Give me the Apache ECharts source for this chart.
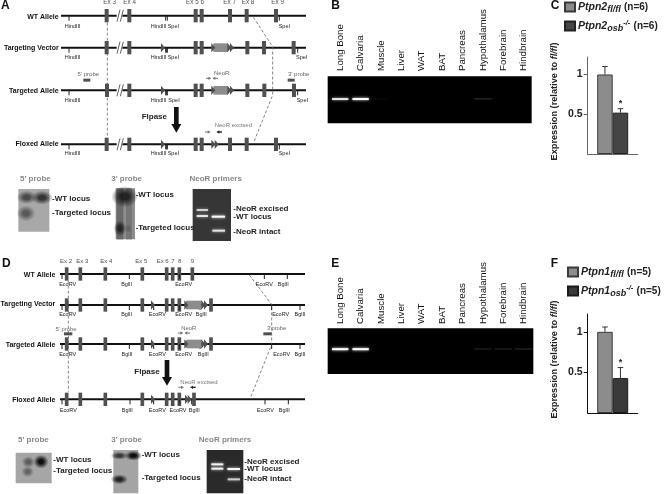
<!DOCTYPE html>
<html><head><meta charset="utf-8">
<style>html,body{margin:0;padding:0;background:#fff}#c{width:664px;height:494px;filter:blur(.35px)}</style>
<script src="https://cdn.jsdelivr.net/npm/echarts@6/dist/echarts.min.js"></script>
</head><body><div id="c"></div>
<script>
// ---------- Bar charts (panels C and F)
const ptpn2Names = ['Ptpn2 fl/fl', 'Ptpn2 osb-/-'];
const ptpn2Means = [1.0, 0.52];
const ptpn2Upper = [1.10, 0.57];
const ptpn1Names = ['Ptpn1 fl/fl', 'Ptpn1 osb-/-'];
const ptpn1Means = [1.0, 0.43];
const ptpn1Upper = [1.06, 0.56];
const yTicks = [0.5, 1];

// ---------- Gels (panels B and E): band intensity per tissue
const tissues = ['Long Bone','Calvaria','Muscle','Liver','WAT','BAT','Pancreas','Hypothalamus','Forebrain','Hindbrain'];
const gelPtpn2 = [0.85, 1, 0.02, 0, 0, 0, 0, 0.08, 0, 0];
const gelPtpn1 = [1, 1, 0, 0, 0, 0, 0, 0.06, 0.06, 0.07];

// ---------- Schematics (panels A and D), in the figure's own map units
const aWTExons = [320,388,587,605,690,740,828];
const aVectorExons = [320,388,587,605,742,792,881];
const aTargetExons = [321,388,587,605,742,793,882];
const aFloxExons = [320,388,587,605,690,740,828];
const aExonLabels = [['Ex 3',329],['Ex 4',389],['Ex 5 6',585],['Ex 7',689],['Ex 8',744],['Ex 9',833]];
const aWTSites = [['HindIII',218,207],['HindIII',476,497],['SpeI',520,502],['SpeI',853,838]];
const aVectorSites = [['HindIII',218,207],['HindIII',476,497],['SpeI',520,502],['SpeI',905,893]];
const aTargetSites = [['HindIII',218,207],['HindIII',476,497],['SpeI',522,502],['SpeI',907,893]];
const aFloxSites = [['HindIII',218,207],['HindIII',476,497],['SpeI',520,502],['SpeI',853,838]];
const dWTExons = [200,241,316,427,500,518,538,577];
const dVectorExons = [200,241,316,427,500,518,538,633];
const dFloxExons = [200,241,316,427,500,518,538,582];
const dExonLabels = [['Ex 2',198],['Ex 3',247],['Ex 4',319],['Ex 5',424],['Ex 6',488],['7',519],['8',539],['9',577]];
const dWTSites = [['EcoRV',203,186],['BglII',380,388],['EcoRV',551,538],['EcoRV',793,793],['BglII',850,862]];
const dVectorSites = [['EcoRV',203,186],['BglII',380,388],['EcoRV',472,461],['EcoRV',551,538],['BglII',604,600],['EcoRV',842,815],['BglII',900,900]];
const dTargetSites = [['EcoRV',203,186],['BglII',381,388],['EcoRV',472,461],['EcoRV',551,538],['BglII',610,600],['EcoRV',845,815],['BglII',900,900]];
const dFloxSites = [['EcoRV',205,186],['BglII',382,390],['EcoRV',472,461],['EcoRV',534,538],['BglII',583,575],['EcoRV',796,795],['BglII',853,865]];

const FONT = '"Liberation Sans", Arial, sans-serif';
const shapes = [];
const grey = '#505050';
function rect(x,y,w,h,fill,o){shapes.push(Object.assign({t:'rect',x,y,w,h,fill},o||{}));}
function line(pts,stroke,lw,dash){shapes.push({t:'line',pts,stroke,lw,dash});}
function poly(pts,fill){shapes.push({t:'poly',pts,fill});}
function text(s,x,y,size,fill,weight,align){shapes.push({t:'text',s,x,y,size,fill,weight:weight||'normal',align:align||'left'});}
function blob(x,y,rx,ry,c){shapes.push({t:'blob',x,y,rx,ry,c});}
function tri(x,y,w,h){poly([[x,y-(h||14)],[x+(w||12),y],[x,y+(h||14)]],grey);}
function exons(list,y,w){list.forEach(x=>rect(x-(w||6),y-20,(w||6)*2,40,grey));}
function sites(list,y,ty){list.forEach(s=>{text(s[0],s[1],ty,5.5,'#222','normal','center');line([[s[2],y],[s[2],y+15]],'#222',1);});}
function arrow(x0,x1,y,c,lw){const d=x1>x0?1:-1;line([[x0,y],[x1-d*6,y]],c,lw||1);poly([[x1,y],[x1-d*9,y-5],[x1-d*9,y+5]],c);}
function big(x,y0,y1){rect(x-7,y0,14,y1-y0-22,'#111');poly([[x-15,y1-26],[x+15,y1-26],[x,y1]],'#111');}
function backbone(x0,x1,y){line([[x0,y],[x1,y]],'#111',2);}
function brk(x,y){rect(x-8,y-8,17,16,'#fff');line([[x-7,y+18],[x+2,y-18]],grey,.9);line([[x+3,y+18],[x+12,y-18]],grey,.9);}
function rowLabel(s,x,y){text(s,x,y,7,'#111','bold','right');}
function bandW(x0,x1,y,a){rect(x0,y-3,x1-x0,6,'rgba(255,255,255,'+a+')',{blur:3});}
function gray(s,x,y){text(s,x,y,8,'#888','bold','center');}

// Panel A
const Ay=[47,143,271,433];
Ay.forEach(y=>backbone(183,918,y));
line([[322,68],[322,412]],'#666',.8,[3,2]);
line([[760,52],[818,140],[818,285],[762,425]],'#666',.8,[3,2]);
exons(aWTExons,Ay[0]);exons(aVectorExons,Ay[1]);exons(aTargetExons,Ay[2]);exons(aFloxExons,Ay[3]);
Ay.forEach(y=>brk(358,y));
aExonLabels.forEach(e=>text(e[0],e[1],8,6.3,grey,'normal','center'));
sites(aWTSites,47,79);sites(aVectorSites,143,171);sites(aTargetSites,271,301);sites(aFloxSites,433,461);
[143,271,433].forEach(y=>{tri(483,y);line([[500,y],[500,y+15]],'#222',1);});
[143,271].forEach(y=>{rect(640,y-13,44,26,'#8c8c8c');tri(634,y);tri(682,y);tri(690,y);});
tri(634,433);tri(644,433);
rowLabel('WT Allele',176,50);rowLabel('Targeting Vector',176,143);rowLabel('Targeted Allele',176,272);rowLabel('Floxed Allele',176,433);
rect(250,236,21,9,grey);rect(863,236,21,9,grey);
text("5' probe",265,223,6,'#666','normal','center');text("3' probe",896,223,6,'#666','normal','center');
text('NeoR',665,219,6,'#666','normal','center');arrow(618,634,235,'#777');arrow(654,637,235,'#777');
text('Flpase',463,351,8,'#222','bold','center');big(529,321,398);
text('NeoR excised',700,377,6,'#777','normal','center');arrow(615,632,396,'#777');arrow(666,649,396,'#222',1.4);
gray("5' probe",106,537);gray("3' probe",380,535);gray('NeoR primers',647,536);
// A blots
rect(55,567,93,128,'#a8a8a8');blob(80,592,30,20,'rgba(50,50,50,.8)');blob(126,593,32,21,'rgba(40,40,40,.9)');blob(78,640,28,24,'rgba(55,55,55,.7)');
rect(347,565,58,153,'#8e8e8e');rect(350,565,20,153,'#6a6a6a');rect(378,565,18,153,'#767676');blob(374,590,40,32,'rgba(25,25,25,.9)');blob(360,685,19,24,'rgba(25,25,25,.85)');blob(385,685,12,14,'rgba(70,70,70,.4)');
rect(578,567,115,156,'#363636');bandW(590,624,630,.7);bandW(590,624,648,.8);bandW(635,675,650,.95);bandW(637,675,692,.8);
[['-WT locus',156,595],['-Targeted locus',156,637],['-WT locus',407,585],['-Targeted locus',407,683],['-NeoR excised',700,625],['-WT locus',700,649],['-NeoR intact',700,695]].forEach(t=>text(t[0],t[1],t[2],8,'#222','bold'));

// Panel D
const off=735, Dy=[87,180,297,463].map(v=>v+off);
Dy.forEach(y=>backbone(180,915,y));
line([[205,107+off],[205,440+off]],'#666',.8,[3,2]);
line([[748,90+off],[815,178+off],[815,298+off],[750,462+off]],'#666',.8,[3,2]);
exons(dWTExons,Dy[0],5.5);exons(dVectorExons,Dy[1],5.5);exons(dVectorExons,Dy[2],5.5);exons(dFloxExons,Dy[3],5.5);
dExonLabels.forEach(e=>text(e[0],e[1],48+off,6,grey,'normal','center'));
sites(dWTSites,Dy[0],118+off);sites(dVectorSites,Dy[1],209+off);sites(dTargetSites,Dy[2],327+off);sites(dFloxSites,Dy[3],495+off);
[Dy[1],Dy[2],Dy[3]].forEach(y=>tri(453,y));
[Dy[1],Dy[2]].forEach(y=>{rect(558,y-13,47,26,'#8c8c8c');tri(553,y);tri(604,y);tri(612,y);});
tri(555,Dy[3]);tri(563,Dy[3]);
rowLabel('WT Allele',166,90+off);rowLabel('Targeting Vector',166,178+off);rowLabel('Targeted Allele',166,299+off);rowLabel('Floxed Allele',166,465+off);
rect(192,262+off,25,9,grey);rect(790,262+off,25,9,grey);
text("5' probe",198,252+off,5.8,'#666','normal','center');text("3'probe",830,250+off,5.8,'#666','normal','center');
text('NeoR',566,250+off,5.8,'#666','normal','center');arrow(533,550,264+off,'#777');arrow(570,553,264+off,'#777');
text('Flpase',441,380+off,8,'#222','bold','center');big(501,345+off,422+off);
text('NeoR excised',597,411+off,6,'#777','normal','center');arrow(535,552,427+off,'#777');arrow(587,570,427+off,'#222',1.4);
gray("5' probe",100,585+off);gray("3' probe",380,585+off);gray('NeoR primers',675,585+off);
// D blots
rect(47,623+off,108,92,'#a6a6a6');blob(85,651+off,20,18,'rgba(55,55,55,.65)');blob(123,650+off,23,21,'rgba(15,15,15,1)');blob(83,680+off,19,17,'rgba(55,55,55,.6)');
rect(340,615+off,75,130,'#a4a4a4');blob(358,632+off,26,12,'rgba(30,30,30,.8)');blob(400,632+off,26,15,'rgba(15,15,15,1)');blob(358,703+off,26,15,'rgba(20,20,20,.9)');
rect(620,615+off,110,130,'#2a2a2a');bandW(634,670,658+off,.9);bandW(634,670,671+off,.9);bandW(682,720,672+off,.95);bandW(683,720,703+off,.7);
[['-WT locus',160,645],['-Targeted locus',160,677],['-WT locus',425,630],['-Targeted locus',425,697],['-NeoR excised',733,651],['-WT locus',733,672],['-NeoR intact',733,702]].forEach(t=>text(t[0],t[1],t[2]+off,8,'#222','bold'));

// Gels background and panel letters
rect(983,229,612,141,'#000');rect(983,985,617,137,'#000');
[['A',3,17],['B',994,16],['C',1652,18],['D',6,792],['E',994,790],['F',1652,790]].forEach(p=>text(p[0],p[1],p[2],12,'#111','bold'));

function renderPage(params, api){
  const s=shapes[api.value(0)], P=p=>api.coord(p);
  if(s.t==='rect'){const a=P([s.x,s.y]);return {type:'rect',shape:{x:a[0],y:a[1],width:s.w/3,height:s.h/3},style:{fill:s.fill,shadowBlur:s.blur||0,shadowColor:s.blur?s.fill:'transparent'}};}
  if(s.t==='line'){return {type:'polyline',shape:{points:s.pts.map(P)},style:{fill:'none',stroke:s.stroke,lineWidth:s.lw,lineDash:s.dash||null}};}
  if(s.t==='poly'){return {type:'polygon',shape:{points:s.pts.map(P)},style:{fill:s.fill}};}
  if(s.t==='blob'){const a=P([s.x,s.y]);const zero=s.c.replace(/[\d.]+\)$/,'0)');return {type:'circle',x:a[0],y:a[1],scaleY:s.ry/s.rx,shape:{cx:0,cy:0,r:s.rx/3},style:{fill:{type:'radial',x:.5,y:.5,r:.5,colorStops:[{offset:0,color:s.c},{offset:.3,color:s.c},{offset:1,color:zero}]}}};}
  const a=P([s.x,s.y]);
  return {type:'text',style:{text:s.s,x:a[0],y:a[1],fill:s.fill,font:s.weight+' '+s.size+'px '+FONT,align:s.align,verticalAlign:'middle'}};
}
function renderBand(yFrac){return function(params,api){
  const cs=params.coordSys, v=api.value(1), bw=api.size([1,0])[0], x=api.coord([api.value(0),0])[0], y=cs.y+cs.height*yFrac;
  if(v<=0) return null;
  const strong=v>.5, a=strong?v:v*1.6, w=bw*(strong?.8:.85);
  return {type:'rect',shape:{x:x-w/2,y:y-1,width:w,height:strong?2:1.6},style:{fill:'rgba(255,255,255,'+a+')',shadowBlur:strong?3:2,shadowColor:'rgba(255,255,255,'+a+')'}};
};}
const N={Ptpn2:6,Ptpn1:5};
function legendFmt(name){
  const p=name.split(' ');
  return p[1]==='fl/fl'?'{a|'+p[0]+'}{s|fl/fl} {n|(n='+N[p[0]]+')}':'{a|'+p[0]+'}{s|osb}{u|-/-} {n|(n='+N[p[0]]+')}';
}
const rich={a:{fontFamily:FONT,fontStyle:'italic',fontWeight:'bold',fontSize:10.5,color:'#222',lineHeight:14},
  s:{fontFamily:FONT,fontStyle:'italic',fontWeight:'bold',fontSize:9,color:'#222',verticalAlign:'bottom',lineHeight:14},
  u:{fontFamily:FONT,fontStyle:'italic',fontWeight:'bold',fontSize:7.5,color:'#222',verticalAlign:'top',lineHeight:14},
  n:{fontFamily:FONT,fontWeight:'bold',fontSize:10,color:'#222',lineHeight:14}};
function legend(names,left,top){return {orient:'vertical',left,top,padding:0,itemGap:5,itemWidth:10,itemHeight:9,icon:'rect',data:names,formatter:legendFmt,selectedMode:false,textStyle:{rich,padding:[0,0,0,-2]}};}
function yAxis(gi,axisColor,nameGap){return {type:'value',gridIndex:gi,min:0,max:1.22,interval:.5,
  name:'{a|Expression (relative to }{b|fl/fl}{a|)}',nameLocation:'middle',nameGap,nameRotate:90,
  nameTextStyle:{padding:[0,0,0,8],rich:{a:{fontFamily:FONT,fontWeight:'bold',fontSize:9.2,color:'#222'},b:{fontFamily:FONT,fontWeight:'bold',fontStyle:'italic',fontSize:9.2,color:'#222'}}},
  axisLine:{show:true,onZero:false,lineStyle:{color:axisColor,width:1}},axisTick:{show:true,length:4,customValues:yTicks,lineStyle:{color:axisColor}},
  axisLabel:{customValues:yTicks,margin:5,color:'#222',fontWeight:'bold',fontSize:10.5,fontFamily:FONT,formatter:v=>String(v)},splitLine:{show:false}};}
function xAxisCat(gi,axisColor,cat){return {type:'category',gridIndex:gi,data:cat,axisLine:{lineStyle:{color:axisColor,width:1}},axisTick:{show:false},axisLabel:{show:false}};}
function gelAxis(gi,m){return {type:'category',gridIndex:gi,position:'top',data:tissues,axisLine:{show:false},axisTick:{show:false},axisLabel:{interval:0,rotate:90,margin:m,fontFamily:FONT,fontSize:9.7,color:'#111'}};}
function gelY(gi){return {type:'value',gridIndex:gi,min:0,max:1,show:false};}
function bars(name,val,color,border,ax){return {name,type:'bar',xAxisIndex:ax,yAxisIndex:ax,barWidth:15.5,barGap:0,data:[val],z:3,itemStyle:{color,borderColor:border,borderWidth:1}};}
function errs(means,upper,ax){return {type:'custom',xAxisIndex:ax,yAxisIndex:ax,z:4,silent:true,encode:{x:0,y:2},
  data:means.map((m,i)=>[0,m,upper[i],i===0?-1:1]),
  renderItem(params,api){
    const up=api.coord([0,api.value(2)]),lo=api.coord([0,api.value(1)]),sg=api.value(3),x=up[0]+sg*7.75,c='#333',kids=[
      {type:'line',shape:{x1:x,y1:lo[1],x2:x,y2:up[1]},style:{stroke:c,lineWidth:1}},
      {type:'line',shape:{x1:x-2.8,y1:up[1],x2:x+2.8,y2:up[1]},style:{stroke:c,lineWidth:1}}];
    if(sg>0) kids.push({type:'text',style:{text:'*',x,y:up[1]-5,fill:'#222',font:'bold 9px '+FONT,align:'center',verticalAlign:'middle'}});
    return {type:'group',children:kids};
  }};}

const option={animation:false,backgroundColor:'#fff',
  legend:[legend(ptpn2Names,564,1),legend(ptpn1Names,567,266)],
  grid:[
    {left:0,top:0,width:664,height:494},
    {left:330,top:76,width:204,height:47},
    {left:330,top:328,width:204,height:46},
    {left:587.7,top:57,width:50,height:97},
    {left:587.7,top:314,width:50,height:99}
  ],
  xAxis:[{type:'value',gridIndex:0,min:0,max:1992,show:false},gelAxis(1,5),gelAxis(2,4),xAxisCat(3,'#666',['Ptpn2']),xAxisCat(4,'#111',['Ptpn1'])],
  yAxis:[{type:'value',gridIndex:0,min:0,max:1482,inverse:true,show:false},gelY(1),gelY(2),yAxis(3,'#666',29),yAxis(4,'#111',29)],
  series:[
    {type:'custom',name:'schematic',xAxisIndex:0,yAxisIndex:0,z:1,silent:true,clip:false,data:shapes.map((s,i)=>[i]),encode:{x:0},renderItem:renderPage},
    {type:'custom',name:'Ptpn2 gel',xAxisIndex:1,yAxisIndex:1,z:2,silent:true,data:gelPtpn2.map((v,i)=>[i,v]),renderItem:renderBand(.49)},
    {type:'custom',name:'Ptpn1 gel',xAxisIndex:2,yAxisIndex:2,z:2,silent:true,data:gelPtpn1.map((v,i)=>[i,v]),renderItem:renderBand(.46)},
    bars(ptpn2Names[0],ptpn2Means[0],'#8c8c8c','#3a3a3a',3),bars(ptpn2Names[1],ptpn2Means[1],'#454545','#222',3),errs(ptpn2Means,ptpn2Upper,3),
    bars(ptpn1Names[0],ptpn1Means[0],'#8c8c8c','#3a3a3a',4),bars(ptpn1Names[1],ptpn1Means[1],'#3a3a3a','#1a1a1a',4),errs(ptpn1Means,ptpn1Upper,4)
  ]};
echarts.init(document.getElementById('c'),null,{renderer:'canvas'}).setOption(option);
</script></body></html>
